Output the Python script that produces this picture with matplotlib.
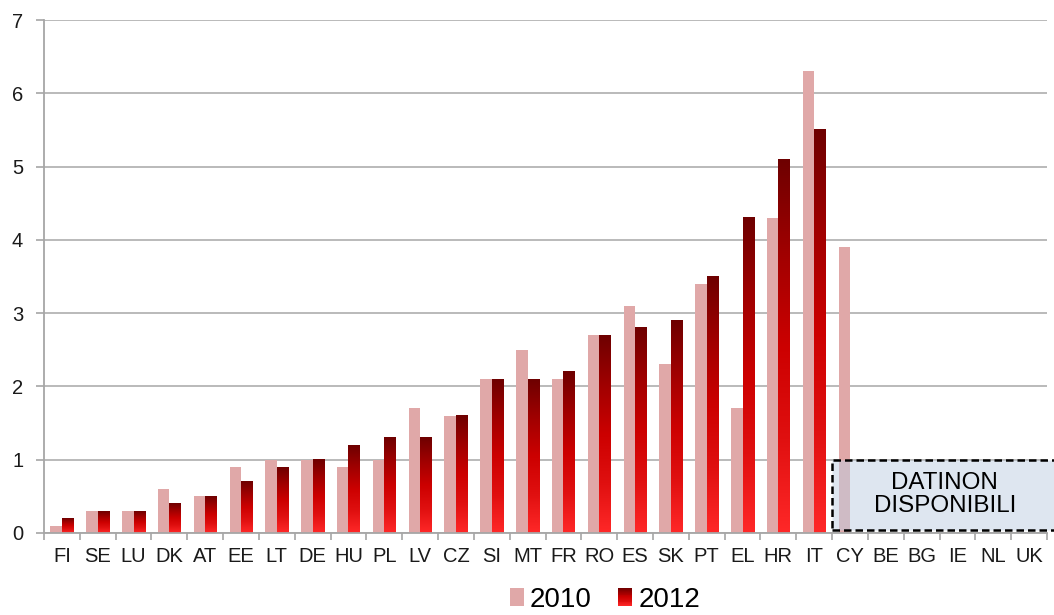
import numpy as np
import matplotlib
matplotlib.use("Agg")
import matplotlib.pyplot as plt
from matplotlib.patches import Rectangle
from matplotlib.legend_handler import HandlerBase
from matplotlib.colors import LinearSegmentedColormap

plt.rcParams['font.family'] = ['Liberation Sans', 'DejaVu Sans']

countries = ["FI", "SE", "LU", "DK", "AT", "EE", "LT", "DE", "HU", "PL", "LV", "CZ",
             "SI", "MT", "FR", "RO", "ES", "SK", "PT", "EL", "HR", "IT", "CY",
             "BE", "BG", "IE", "NL", "UK"]
v2010 = [0.1, 0.3, 0.3, 0.6, 0.5, 0.9, 1.0, 1.0, 0.9, 1.0, 1.7, 1.6,
         2.1, 2.5, 2.1, 2.7, 3.1, 2.3, 3.4, 1.7, 4.3, 6.3, 3.9,
         np.nan, np.nan, np.nan, np.nan, np.nan]
v2012 = [0.2, 0.3, 0.3, 0.4, 0.5, 0.7, 0.9, 1.0, 1.2, 1.3, 1.3, 1.6,
         2.1, 2.1, 2.2, 2.7, 2.8, 2.9, 3.5, 4.3, 5.1, 5.5, np.nan,
         np.nan, np.nan, np.nan, np.nan, np.nan]
series_labels = ["2010", "2012"]
yticks = [0, 1, 2, 3, 4, 5, 6, 7]
na_text = "DATINON\nDISPONIBILI"

PINK = "#e0a8a8"
grad_cmap = LinearSegmentedColormap.from_list(
    "g", ["#ff2828", "#e01010", "#cc0000", "#a00000", "#6e0000"])

W, H = 1054, 615
fig = plt.figure(figsize=(W / 100, H / 100), dpi=100)
ax = fig.add_axes([44 / W, (615 - 533) / H, (1047 - 44) / W, (533 - 20) / H])

x = np.arange(len(countries))
bw = 0.32
ax.bar(x - bw / 2, v2010, width=bw, color=PINK, zorder=2, linewidth=0)
bars12 = ax.bar(x + bw / 2, v2012, width=bw, color="none", zorder=2, linewidth=0)

grad = np.linspace(1, 0, 256).reshape(-1, 1)
for b in bars12:
    h = b.get_height()
    if not np.isfinite(h) or h <= 0:
        continue
    x0 = b.get_x()
    ax.imshow(grad, cmap=grad_cmap, aspect="auto", origin="upper",
              extent=(x0, x0 + b.get_width(), 0, h), zorder=2,
              interpolation="bilinear")

ax.set_xlim(-0.5, len(countries) - 0.5)
ax.set_ylim(0, 7)
ax.set_yticks(yticks)
ax.set_yticklabels([str(t) for t in yticks])
ax.set_xticks(x)
ax.set_xticklabels(countries)
ax.set_xticks(np.arange(-0.5, len(countries), 1.0), minor=True)

ax.grid(axis="y", color="#b4b4b4", linewidth=1.3, zorder=0)
ax.set_axisbelow(True)
for s in ["top", "right"]:
    ax.spines[s].set_visible(False)
for s in ["left", "bottom"]:
    ax.spines[s].set_color("#a6a6a6")
    ax.spines[s].set_linewidth(1.3)
ax.tick_params(axis="x", which="major", length=0, pad=10, labelsize=14.5, colors="#1a1a1a")
ax.tick_params(axis="x", which="minor", length=5, width=1.2, color="#a6a6a6", direction="out")
ax.tick_params(axis="y", length=6, width=1.2, color="#a6a6a6", pad=9, labelsize=14.5,
               labelcolor="#1a1a1a")

# "not available" box
i_na = countries.index("CY")
box = Rectangle((i_na - 0.5, 0.035), 7.0, 0.965, facecolor=(191 / 255, 207 / 255, 227 / 255, 0.5),
                edgecolor="black", linewidth=1.8, linestyle=(0, (3, 1.6)), zorder=4,
                clip_on=False)
ax.add_patch(box)
ax.text(24.65, 0.52, na_text, ha="center", va="center", fontsize=17.4,
        linespacing=1.05, zorder=5, color="black")


class GradHandler(HandlerBase):
    def create_artists(self, legend, orig_handle, xdescent, ydescent, width, height,
                       fontsize, trans):
        n = 20
        arts = []
        for k in range(n):
            c = grad_cmap(1 - (k + 0.5) / n)
            r = Rectangle((-xdescent, -ydescent + height * (1 - (k + 1) / n)), width,
                          height / n + 0.01, facecolor=c, edgecolor="none", transform=trans)
            arts.append(r)
        return arts


h1 = Rectangle((0, 0), 1, 1, facecolor=PINK, edgecolor="none")
h2 = Rectangle((0, 0), 1, 1, facecolor="#c00000", edgecolor="none")
leg = fig.legend([h1, h2], series_labels, loc="center", bbox_to_anchor=(0.574, 15 / H),
                 ncol=2, frameon=False, fontsize=20, handlelength=0.5, handleheight=0.6,
                 handletextpad=0.22, columnspacing=0.95, borderpad=0,
                 handler_map={h2: GradHandler()})

fig.savefig("out.png", dpi=100)
